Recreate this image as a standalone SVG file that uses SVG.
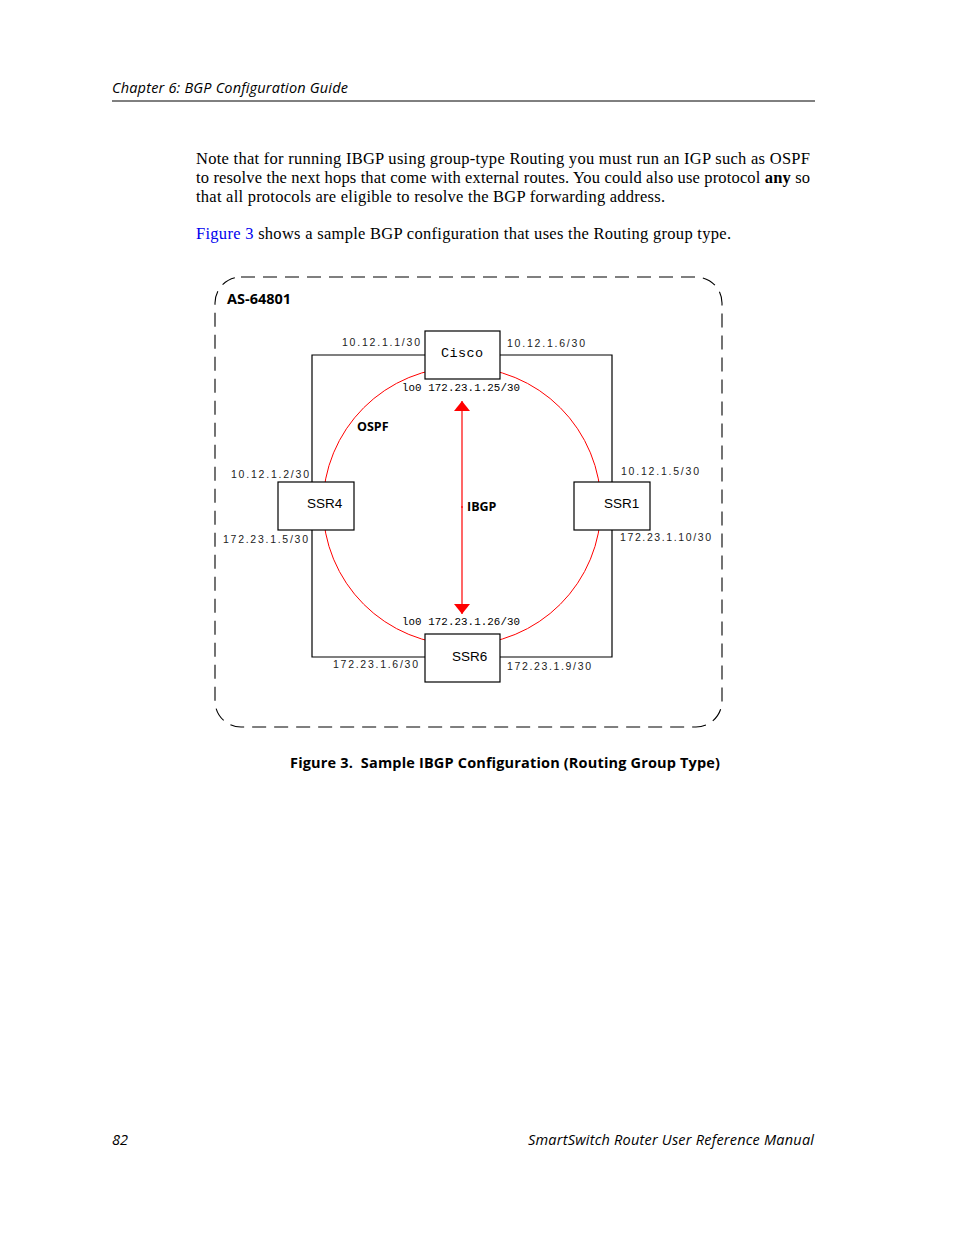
<svg xmlns="http://www.w3.org/2000/svg" width="954" height="1235" viewBox="0 0 954 1235">
<defs>
<style>
.hdr{font-family:"Open Sans","Noto Sans",sans-serif;font-style:italic;font-size:14.5px;fill:#000}
.body{font-family:"Liberation Serif",serif;font-size:16.5px;fill:#000}
.lbl{font-family:"Liberation Mono","DejaVu Sans Mono",monospace;font-size:10.8px;fill:#000}
.ip{font-family:"Liberation Sans",Arial,sans-serif;font-size:10.5px;fill:#222}
.nm{font-family:"Liberation Sans",Arial,sans-serif;font-size:13.5px;fill:#000}
.bold{font-family:"Open Sans","Noto Sans",sans-serif;font-weight:bold;fill:#000}
.box{fill:#fff;stroke:#000;stroke-width:1.2}
.wire{fill:none;stroke:#000;stroke-width:1.2}
</style>
<marker id="ah" viewBox="0 0 10 16" refX="10" refY="8" markerWidth="10" markerHeight="16" markerUnits="userSpaceOnUse" orient="auto">
<path d="M0,0 L10,8 L0,16 z" fill="#ff0000"/>
</marker>
</defs>
<rect width="954" height="1235" fill="#fff"/>
<text class="hdr" x="112" y="93" textLength="236">Chapter 6: BGP Configuration Guide</text>
<line x1="112" y1="101" x2="815" y2="101" stroke="#000" stroke-width="1"/>
<text class="body" x="196" y="164" textLength="614">Note that for running IBGP using group-type Routing you must run an IGP such as OSPF</text>
<text class="body" x="196" y="183" textLength="614">to resolve the next hops that come with external routes. You could also use protocol <tspan font-weight="bold">any</tspan> so</text>
<text class="body" x="196" y="202" textLength="469">that all protocols are eligible to resolve the BGP forwarding address.</text>
<text class="body" x="196" y="239" textLength="535"><tspan fill="#0000ee">Figure 3</tspan> shows a sample BGP configuration that uses the Routing group type.</text>
<g id="as-boundary">
<rect x="215" y="277" width="507" height="450" rx="26" ry="26" fill="none" stroke="#000" stroke-width="1.1" stroke-dasharray="14 8"/>
<text class="bold" x="227" y="304" style="font-size:14.5px">AS-64801</text>
</g>
<g id="connectors">
<circle cx="462" cy="506" r="139" fill="none" stroke="#ff0000" stroke-width="1"/>
<polyline class="wire" points="425,355 312,355 312,482"/>
<polyline class="wire" points="312,530 312,657 425,657"/>
<polyline class="wire" points="500,355 612,355 612,482"/>
<polyline class="wire" points="612,530 612,657 500,657"/>
<line x1="462" y1="508" x2="462" y2="401" stroke="#ff0000" stroke-width="1.2" marker-end="url(#ah)"/>
<line x1="462" y1="506" x2="462" y2="614" stroke="#ff0000" stroke-width="1.2" marker-end="url(#ah)"/>
<text class="bold" x="357" y="431" style="font-size:12.5px">OSPF</text>
<text class="bold" x="467" y="511" style="font-size:12.5px">IBGP</text>
</g>
<g id="cisco">
<rect class="box" x="425" y="331" width="75" height="48"/>
<text class="lbl" x="441" y="357" style="font-size:13.5px" textLength="42">Cisco</text>
<text class="ip" x="342" y="346" textLength="78">10.12.1.1/30</text>
<text class="ip" x="507" y="347" textLength="78">10.12.1.6/30</text>
<text class="lbl" x="402" y="391" textLength="118">lo0 172.23.1.25/30</text>
</g>
<g id="ssr4">
<rect class="box" x="278" y="482" width="76" height="48"/>
<text class="nm" x="307" y="508">SSR4</text>
<text class="ip" x="231" y="478" textLength="78">10.12.1.2/30</text>
<text class="ip" x="223" y="543" textLength="85">172.23.1.5/30</text>
</g>
<g id="ssr1">
<rect class="box" x="574" y="482" width="76" height="48"/>
<text class="nm" x="604" y="508">SSR1</text>
<text class="ip" x="621" y="475" textLength="78">10.12.1.5/30</text>
<text class="ip" x="620" y="541" textLength="91">172.23.1.10/30</text>
</g>
<g id="ssr6">
<rect class="box" x="425" y="634" width="75" height="48"/>
<text class="nm" x="452" y="661">SSR6</text>
<text class="lbl" x="402" y="625" textLength="118">lo0 172.23.1.26/30</text>
<text class="ip" x="333" y="668" textLength="85">172.23.1.6/30</text>
<text class="ip" x="507" y="670" textLength="84">172.23.1.9/30</text>
</g>
<text class="bold" x="290" y="768" style="font-size:14.5px" textLength="430">Figure 3.&#160; Sample IBGP Configuration (Routing Group Type)</text>
<text class="hdr" x="112" y="1145">82</text>
<text class="hdr" x="814" y="1145" text-anchor="end" textLength="286">SmartSwitch Router User Reference Manual</text>
</svg>
